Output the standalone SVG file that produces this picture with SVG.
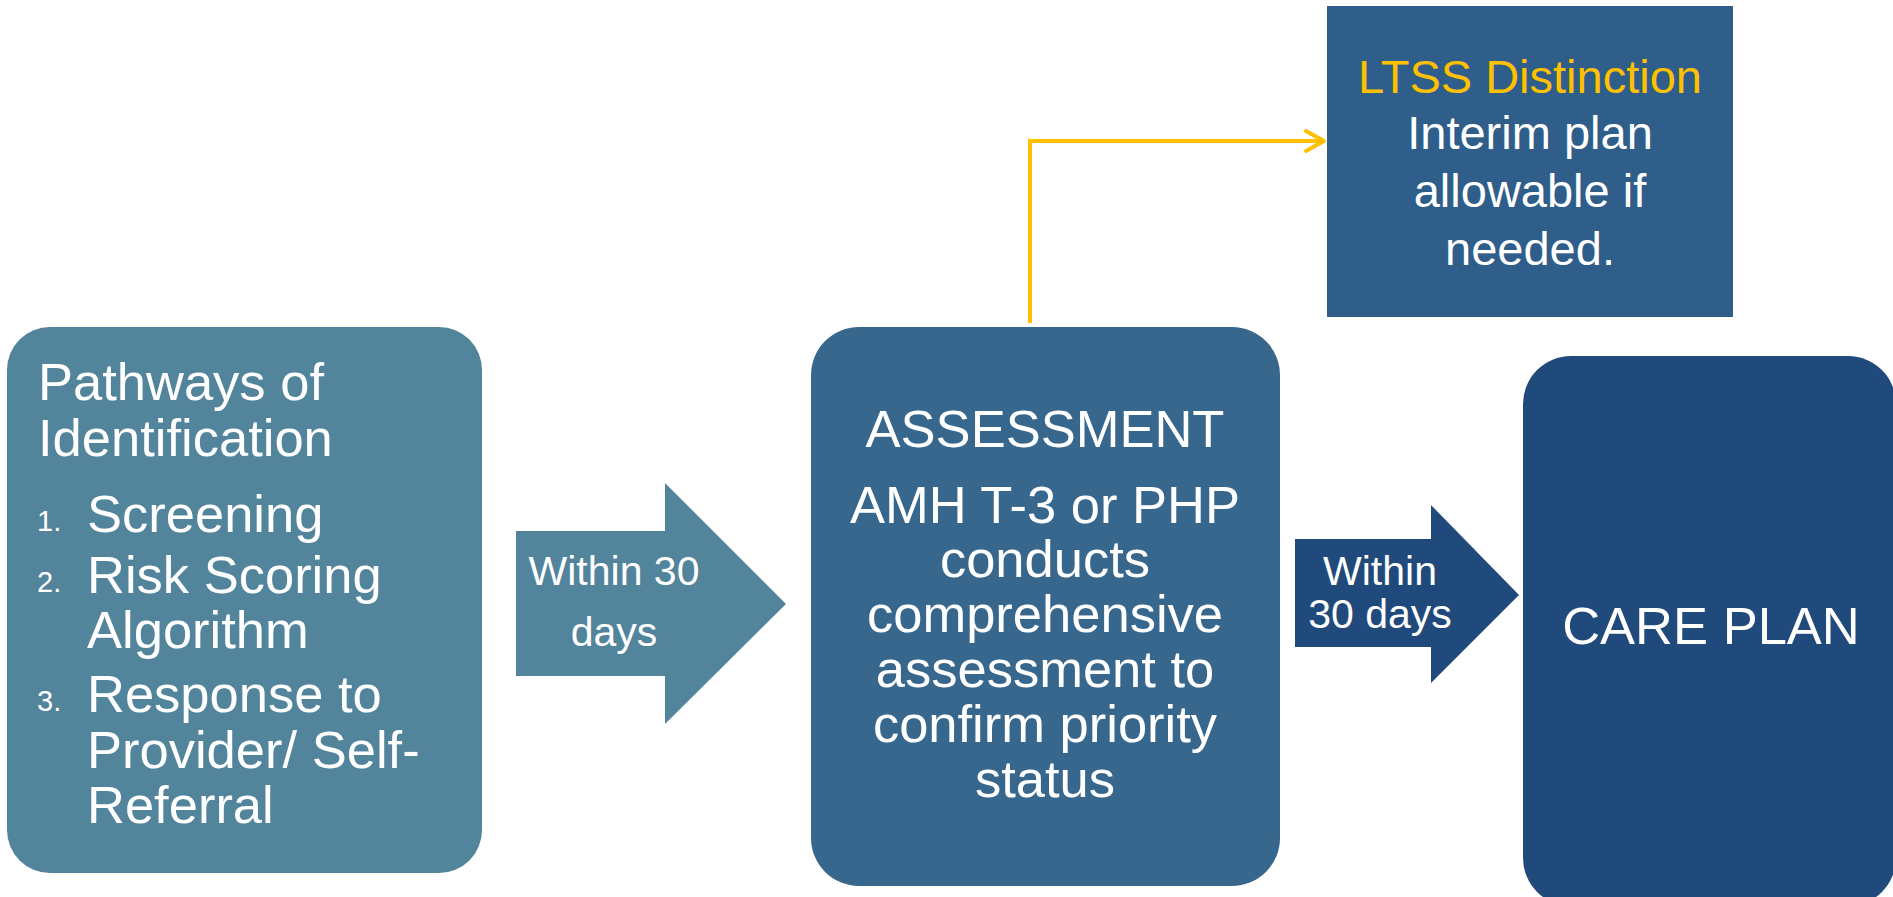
<svg xmlns="http://www.w3.org/2000/svg" width="1893" height="897" viewBox="0 0 1893 897">
  <defs>
    <style>
      text { font-family: "Liberation Sans", Arial, sans-serif; fill: #ffffff; }
      .big { font-size: 52.5px; }
      .mid { font-size: 47px; }
      .lbl { font-size: 41px; }
      .num { font-size: 29px; }
      .ctr { text-anchor: middle; }
      .gold { fill: #FFC000; }
      .teal { fill: #52849B; }
      .steel { fill: #38678E; }
      .slate { fill: #2E5E89; }
      .navy { fill: #214A7C; }
      .link { fill: none; stroke: #FFC000; stroke-width: 4; }
    </style>
    <marker id="chevron" markerUnits="userSpaceOnUse" viewBox="-22 -13 26 26" markerWidth="26" markerHeight="26" refX="0" refY="0" orient="auto">
      <path d="M-18,-10 L0,0 L-18,10" fill="none" stroke="#FFC000" stroke-width="4" stroke-linecap="round" stroke-linejoin="round"/>
    </marker>
  </defs>

  <rect width="1893" height="897" fill="#ffffff"/>

  <!-- connectors -->
  <g id="connectors">
    <path class="link" d="M1030,323 V141 H1324" marker-end="url(#chevron)"/>
    <g id="arrow-within-30-a">
      <polygon class="teal" points="516,531 665,531 665,483 786,604 665,724 665,676 516,676"/>
      <text class="lbl ctr" x="614" y="585">Within 30</text>
      <text class="lbl ctr" x="614" y="646">days</text>
    </g>
    <g id="arrow-within-30-b">
      <polygon class="navy" points="1295,539 1431,539 1431,505 1519,595 1431,683 1431,647 1295,647"/>
      <text class="lbl ctr" x="1380" y="585">Within</text>
      <text class="lbl ctr" x="1380" y="628">30 days</text>
    </g>
  </g>

  <!-- pathways of identification -->
  <g id="pathways">
    <rect class="teal" x="7" y="327" width="475" height="546" rx="43" ry="43"/>
    <text class="big" x="38" y="400">Pathways of</text>
    <text class="big" x="38" y="456">Identification</text>
    <text class="num" x="37" y="531">1.</text>
    <text class="big" x="87" y="532">Screening</text>
    <text class="num" x="37" y="592">2.</text>
    <text class="big" x="87" y="593">Risk Scoring</text>
    <text class="big" x="87" y="648">Algorithm</text>
    <text class="num" x="37" y="711">3.</text>
    <text class="big" x="87" y="712">Response to</text>
    <text class="big" x="87" y="768">Provider/ Self-</text>
    <text class="big" x="87" y="823">Referral</text>
  </g>

  <!-- assessment -->
  <g id="assessment">
    <rect class="steel" x="811" y="327" width="469" height="559" rx="48" ry="48"/>
    <text class="big ctr" x="1045" y="447">ASSESSMENT</text>
    <text class="big ctr" x="1045" y="523">AMH T-3 or PHP</text>
    <text class="big ctr" x="1045" y="577">conducts</text>
    <text class="big ctr" x="1045" y="632">comprehensive</text>
    <text class="big ctr" x="1045" y="687">assessment to</text>
    <text class="big ctr" x="1045" y="742">confirm priority</text>
    <text class="big ctr" x="1045" y="797">status</text>
  </g>

  <!-- LTSS distinction -->
  <g id="ltss">
    <rect class="slate" x="1327" y="6" width="406" height="311"/>
    <text class="mid ctr gold" x="1530" y="93">LTSS Distinction</text>
    <text class="mid ctr" x="1530" y="149">Interim plan</text>
    <text class="mid ctr" x="1530" y="207">allowable if</text>
    <text class="mid ctr" x="1530" y="265">needed.</text>
  </g>

  <!-- care plan -->
  <g id="care-plan">
    <rect class="navy" x="1523" y="356" width="373" height="550" rx="48" ry="48"/>
    <text class="big ctr" x="1711" y="644">CARE PLAN</text>
  </g>
</svg>
